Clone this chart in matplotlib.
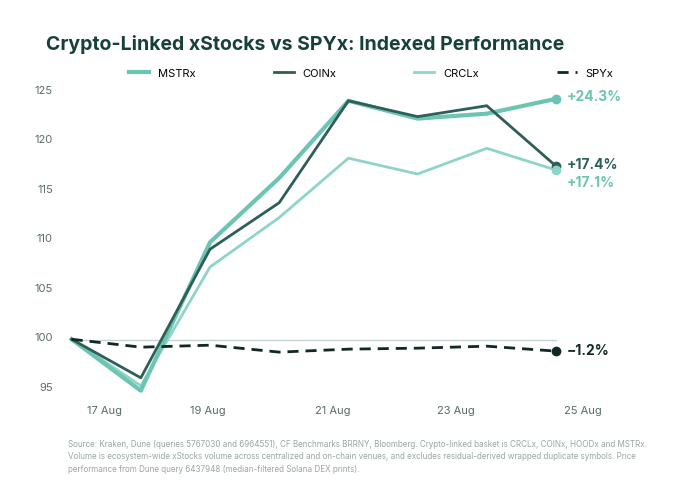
import matplotlib.pyplot as plt

plt.rcParams['font.family'] = ['Inter', 'DejaVu Sans']

# 数据
idx = [0, 1, 2, 3, 4, 5, 6, 7]
mstrx = [99.7, 94.5, 109.5, 116.0, 123.8, 122.0, 122.5, 124.0]
coinx = [99.7, 95.8, 108.8, 113.5, 123.8, 122.2, 123.3, 117.2]
crclx = [99.7, 95.0, 107.0, 112.0, 118.0, 116.4, 119.0, 116.8]
spyx = [99.7, 98.9, 99.1, 98.4, 98.7, 98.8, 99.0, 98.5]
tick_pos = [0.48, 1.97, 3.78, 5.56, 7.39]
tick_labels = ['17 Aug', '19 Aug', '21 Aug', '23 Aug', '25 Aug']
end_labels = ['+24.3%', '+17.4%', '+17.1%', '\u22121.2%']

c_mstr, c_coin, c_crcl, c_spy = '#6cc5b3', '#2d5e58', '#8fd4c8', '#0f2926'

fig = plt.figure(figsize=(6.8, 5.02), dpi=100)
ax = fig.add_axes([0.085, 0.2, 0.87, 0.68])

ax.plot([0, 7], [99.6, 99.6], color='#c8d2d0', lw=1)
ax.plot(idx, crclx, color=c_crcl, lw=2, label='CRCLx')
ax.plot(idx, mstrx, color=c_mstr, lw=3, label='MSTRx')
ax.plot(idx, coinx, color=c_coin, lw=2, label='COINx')
ax.plot(idx, spyx, color=c_spy, lw=2, ls=(0, (4, 2.5)), label='SPYx')
for s, c in [(mstrx, c_mstr), (coinx, c_coin), (crclx, c_crcl), (spyx, c_spy)]:
    ax.plot(idx[-1], s[-1], 'o', color=c, ms=6)

ax.text(7.15, 124.3, end_labels[0], color=c_mstr, fontsize=10, fontweight='bold', va='center')
ax.text(7.15, 117.4, end_labels[1], color=c_coin, fontsize=10, fontweight='bold', va='center')
ax.text(7.15, 115.6, end_labels[2], color=c_mstr, fontsize=10, fontweight='bold', va='center')
ax.text(7.15, 98.6, end_labels[3], color=c_spy, fontsize=10, fontweight='bold', va='center')

ax.set_xlim(-0.2, 8.35)
ax.set_ylim(93.5, 128)
ax.set_yticks([95, 100, 105, 110, 115, 120, 125])
ax.set_xticks(tick_pos)
ax.set_xticklabels(tick_labels)
ax.tick_params(length=0, labelsize=8, colors='#5a6b69')
for sp in ax.spines.values():
    sp.set_visible(False)

h, l = ax.get_legend_handles_labels()
order = [1, 2, 0, 3]
ax.legend([h[i] for i in order], [l[i] for i in order], ncol=4, loc='upper center',
          bbox_to_anchor=(0.53, 1.005), frameon=False, fontsize=8, handlelength=1.8,
          columnspacing=7)

fig.text(0.068, 0.9, 'Crypto-Linked xStocks vs SPYx: Indexed Performance',
         fontsize=14, fontweight='bold', color='#17403b')
fig.text(0.1, 0.06,
         'Source: Kraken, Dune (queries 5767030 and 6964551), CF Benchmarks BRRNY, Bloomberg. Crypto-linked basket is CRCLx, COINx, HOODx and MSTRx.\n'
         'Volume is ecosystem-wide xStocks volume across centralized and on-chain venues, and excludes residual-derived wrapped duplicate symbols. Price\n'
         'performance from Dune query 6437948 (median-filtered Solana DEX prints).',
         fontsize=5.8, color='#9aa6a4', linespacing=1.5)

fig.savefig('out.png', dpi=100)
